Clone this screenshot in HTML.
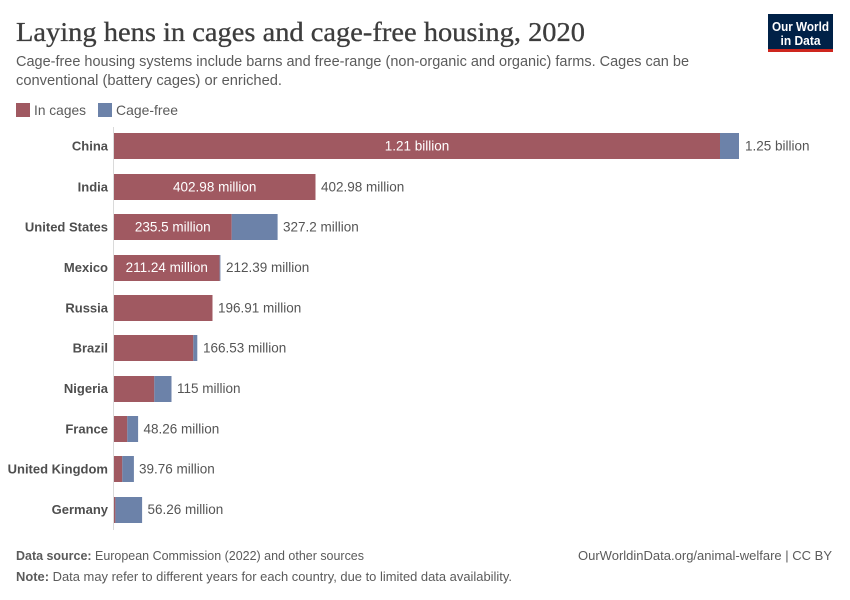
<!DOCTYPE html>
<html><head><meta charset="utf-8"><style>
html,body{margin:0;padding:0;background:#fff;}
svg{display:block;font-family:"Liberation Sans",sans-serif;}
</style></head><body>
<svg width="850" height="600" viewBox="0 0 850 600" xmlns="http://www.w3.org/2000/svg">
<rect width="850" height="600" fill="#fff"/>
<text x="16" y="41" font-family="Liberation Serif, serif" font-size="27" fill="#3d3d3d" stroke="#3d3d3d" stroke-width="0.3" textLength="569" lengthAdjust="spacingAndGlyphs">Laying hens in cages and cage-free housing, 2020</text>
<text x="16" y="66" font-size="14.5" fill="#5b5b5b" textLength="673" lengthAdjust="spacingAndGlyphs">Cage-free housing systems include barns and free-range (non-organic and organic) farms. Cages can be</text>
<text x="16" y="85" font-size="14.5" fill="#5b5b5b" textLength="266" lengthAdjust="spacingAndGlyphs">conventional (battery cages) or enriched.</text>
<!-- logo -->
<rect x="768" y="14" width="65" height="38" fill="#002147"/>
<rect x="768" y="49" width="65" height="3" fill="#ce261e"/>
<text x="800.5" y="31" font-size="13" font-weight="bold" fill="#fff" text-anchor="middle" textLength="57" lengthAdjust="spacingAndGlyphs">Our World</text>
<text x="800.5" y="45" font-size="13" font-weight="bold" fill="#fff" text-anchor="middle" textLength="40" lengthAdjust="spacingAndGlyphs">in Data</text>
<!-- legend -->
<rect x="16" y="103" width="14" height="14" fill="#a05961"/>
<text x="34" y="115" font-size="14" fill="#5b5b5b" textLength="52" lengthAdjust="spacingAndGlyphs">In cages</text>
<rect x="98" y="103" width="14" height="14" fill="#6c82a9"/>
<text x="116" y="115" font-size="14" fill="#5b5b5b" textLength="62" lengthAdjust="spacingAndGlyphs">Cage-free</text>
<!-- axis -->
<line x1="113.5" y1="127" x2="113.5" y2="530" stroke="#dadada" stroke-width="1"/>
<g font-size="13.5" fill="#555">
<!-- China -->
<rect x="114" y="133" width="606" height="26" fill="#a05961"/>
<rect x="720" y="133" width="19" height="26" fill="#6c82a9"/>
<text x="108" y="150.5" font-size="13" font-weight="bold" text-anchor="end" fill="#4e4e4e">China</text>
<text x="417" y="150.5" text-anchor="middle" fill="#fff">1.21 billion</text>
<text x="745" y="150.5">1.25 billion</text>
<!-- India -->
<rect x="114" y="174" width="201.5" height="26" fill="#a05961"/>
<text x="108" y="191.5" font-size="13" font-weight="bold" text-anchor="end" fill="#4e4e4e">India</text>
<text x="214.7" y="191.5" text-anchor="middle" fill="#fff">402.98 million</text>
<text x="321" y="191.5">402.98 million</text>
<!-- US -->
<rect x="114" y="214" width="117.7" height="26" fill="#a05961"/>
<rect x="231.7" y="214" width="45.9" height="26" fill="#6c82a9"/>
<text x="108" y="231.5" font-size="13" font-weight="bold" text-anchor="end" fill="#4e4e4e">United States</text>
<text x="172.8" y="231.5" text-anchor="middle" fill="#fff">235.5 million</text>
<text x="283" y="231.5">327.2 million</text>
<!-- Mexico -->
<rect x="114" y="255" width="105.6" height="26" fill="#a05961"/>
<rect x="219.6" y="255" width="0.8" height="26" fill="#6c82a9"/>
<text x="108" y="272" font-size="13" font-weight="bold" text-anchor="end" fill="#4e4e4e">Mexico</text>
<text x="166.8" y="272" text-anchor="middle" fill="#fff">211.24 million</text>
<text x="226" y="272">212.39 million</text>
<!-- Russia -->
<rect x="114" y="295" width="98.5" height="26" fill="#a05961"/>
<text x="108" y="312.5" font-size="13" font-weight="bold" text-anchor="end" fill="#4e4e4e">Russia</text>
<text x="218" y="312.5">196.91 million</text>
<!-- Brazil -->
<rect x="114" y="335" width="79.3" height="26" fill="#a05961"/>
<rect x="193.3" y="335" width="4" height="26" fill="#6c82a9"/>
<text x="108" y="352.5" font-size="13" font-weight="bold" text-anchor="end" fill="#4e4e4e">Brazil</text>
<text x="203" y="352.5">166.53 million</text>
<!-- Nigeria -->
<rect x="114" y="376" width="40.3" height="26" fill="#a05961"/>
<rect x="154.3" y="376" width="17.2" height="26" fill="#6c82a9"/>
<text x="108" y="393" font-size="13" font-weight="bold" text-anchor="end" fill="#4e4e4e">Nigeria</text>
<text x="177" y="393">115 million</text>
<!-- France -->
<rect x="114" y="416" width="13.3" height="26" fill="#a05961"/>
<rect x="127.3" y="416" width="10.8" height="26" fill="#6c82a9"/>
<text x="108" y="433.5" font-size="13" font-weight="bold" text-anchor="end" fill="#4e4e4e">France</text>
<text x="143.5" y="433.5">48.26 million</text>
<!-- UK -->
<rect x="114" y="456" width="8.3" height="26" fill="#a05961"/>
<rect x="122.3" y="456" width="11.6" height="26" fill="#6c82a9"/>
<text x="108" y="473.5" font-size="13" font-weight="bold" text-anchor="end" fill="#4e4e4e">United Kingdom</text>
<text x="139" y="473.5">39.76 million</text>
<!-- Germany -->
<rect x="114" y="497" width="1.4" height="26" fill="#a05961"/>
<rect x="115.4" y="497" width="26.7" height="26" fill="#6c82a9"/>
<text x="108" y="514" font-size="13" font-weight="bold" text-anchor="end" fill="#4e4e4e">Germany</text>
<text x="147.5" y="514">56.26 million</text>
</g>
<!-- footer -->
<text x="16" y="560" font-size="12.5" fill="#5b5b5b" textLength="348" lengthAdjust="spacingAndGlyphs"><tspan font-weight="bold">Data source:</tspan> European Commission (2022) and other sources</text>
<text x="16" y="581" font-size="12.5" fill="#5b5b5b" textLength="496" lengthAdjust="spacingAndGlyphs"><tspan font-weight="bold">Note:</tspan> Data may refer to different years for each country, due to limited data availability.</text>
<text x="832" y="560" font-size="12.5" fill="#5b5b5b" text-anchor="end" textLength="254" lengthAdjust="spacingAndGlyphs">OurWorldinData.org/animal-welfare | CC BY</text>
</svg>
</body></html>
